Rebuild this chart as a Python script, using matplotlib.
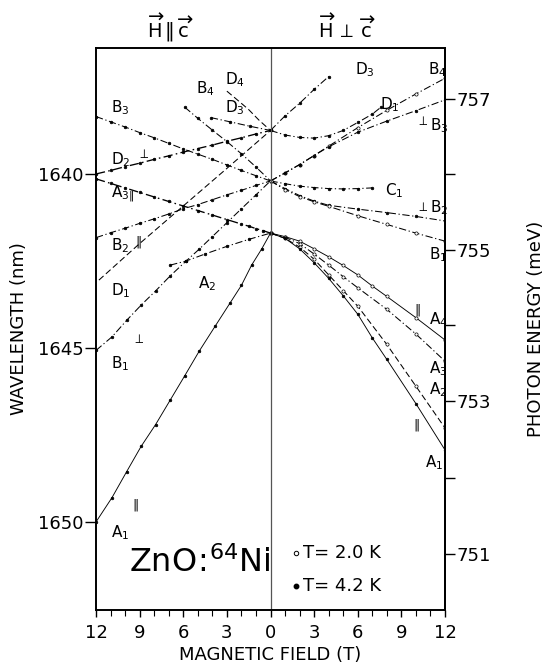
import matplotlib
matplotlib.use("Agg")
import matplotlib.pyplot as plt
from matplotlib.ticker import FixedLocator, FuncFormatter, MultipleLocator

HC = 1239841.98  # meV * nm

# ---------------- data: field (T) and wavelength (nm) ----------------
# H || c  (left half)
par_B3_B  = [12, 11, 10, 9, 8, 7, 6, 5, 4, 3, 2, 1, 0]
par_B3_L  = [1638.35, 1638.5, 1638.65, 1638.81, 1638.96, 1639.12, 1639.28, 1639.43, 1639.58, 1639.74, 1639.9, 1640.05, 1640.2]
par_D2_B  = [12, 11, 10, 9, 8, 7, 6, 5, 4, 3, 2, 1, 0]
par_D2_L  = [1640.0, 1639.9, 1639.79, 1639.69, 1639.58, 1639.48, 1639.37, 1639.27, 1639.17, 1639.06, 1638.96, 1638.85, 1638.75]
par_A3_B  = [12, 11, 10, 9, 8, 7, 6, 5, 4, 3, 2, 1.5, 1, 0.5, 0]
par_A3_L  = [1640.14, 1640.27, 1640.4, 1640.53, 1640.66, 1640.79, 1640.92, 1641.05, 1641.18, 1641.31, 1641.44, 1641.5, 1641.57, 1641.63, 1641.7]
par_B2_B  = [12, 11, 10, 9, 8, 7, 6, 5, 4, 3, 2, 1, 0]
par_B2_L  = [1641.83, 1641.69, 1641.56, 1641.42, 1641.29, 1641.15, 1641.0, 1640.88, 1640.74, 1640.6, 1640.47, 1640.33, 1640.2]
par_D1_B  = [11.8, 9, 6, 3, 0]
par_D1_L  = [1643.05, 1642.0, 1640.92, 1639.84, 1638.75]
par_A2_B  = [6.9, 5.8, 4.5, 3, 1.5, 0]
par_A2_L  = [1642.62, 1642.5, 1642.3, 1642.08, 1641.88, 1641.7]
par_B1_B  = [12, 10.9, 9.9, 8.9, 7.9, 6.9, 5.8, 4.9, 4, 3, 2, 1, 0]
par_B1_L  = [1645.07, 1644.68, 1644.21, 1643.77, 1643.36, 1642.93, 1642.5, 1642.16, 1641.8, 1641.4, 1641.0, 1640.6, 1640.2]
par_A1_B  = [12, 10.9, 9.9, 8.9, 7.9, 6.9, 5.9, 4.9, 3.8, 2.8, 2, 1.3, 0.6, 0]
par_A1_L  = [1650.0, 1649.3, 1648.56, 1647.83, 1647.2, 1646.5, 1645.8, 1645.09, 1644.37, 1643.72, 1643.2, 1642.62, 1642.15, 1641.7]
par_B4_B  = [5.9, 5, 4, 3, 2, 1, 0]
par_B4_L  = [1638.08, 1638.4, 1638.74, 1639.07, 1639.42, 1639.8, 1640.2]
par_D4_B  = [3.0, 2.2, 1.5, 0.8, 0]
par_D4_L  = [1637.62, 1637.9, 1638.15, 1638.45, 1638.75]
par_D3_B  = [4.1, 2.8, 1.4, 0]
par_D3_L  = [1638.38, 1638.5, 1638.63, 1638.75]

# H perpendicular c  (right half)
per_D3_B  = [0, 1, 2, 3, 4]
per_D3_L  = [1638.75, 1638.33, 1637.97, 1637.57, 1637.2]
per_D1_B  = [0, 1, 2, 3, 4, 5, 6, 7, 7.6]
per_D1_L  = [1638.75, 1638.88, 1638.95, 1638.97, 1638.9, 1638.75, 1638.52, 1638.28, 1638.08]
per_B4_B  = [0, 1, 2, 3, 4, 6, 8, 10, 12]
per_B4_L  = [1640.2, 1639.97, 1639.73, 1639.47, 1639.2, 1638.67, 1638.17, 1637.7, 1637.25]
per_B3_B  = [0, 1, 2, 3, 4, 6, 8, 10, 12]
per_B3_L  = [1640.2, 1639.97, 1639.73, 1639.47, 1639.22, 1638.8, 1638.48, 1638.18, 1637.87]
per_C1_B  = [0, 1, 2, 3, 4, 5, 6, 7]
per_C1_L  = [1640.2, 1640.28, 1640.35, 1640.39, 1640.42, 1640.43, 1640.42, 1640.4]
per_B2_B  = [0, 1, 2, 3, 4, 6, 8, 10, 12]
per_B2_L  = [1640.2, 1640.42, 1640.62, 1640.78, 1640.9, 1641.01, 1641.11, 1641.22, 1641.35]
per_B1_B  = [0, 1, 2, 3, 4, 6, 8, 10, 12]
per_B1_L  = [1640.2, 1640.45, 1640.65, 1640.8, 1640.93, 1641.2, 1641.45, 1641.7, 1641.93]
per_A4_B  = [0, 1, 2, 3, 4, 5, 6, 7, 8, 10, 12]
per_A4_L  = [1641.7, 1641.8, 1641.93, 1642.15, 1642.38, 1642.63, 1642.9, 1643.22, 1643.52, 1644.13, 1644.77]
per_A3_B  = [0, 1, 2, 3, 4, 5, 6, 8, 10, 12]
per_A3_L  = [1641.7, 1641.82, 1642.0, 1642.3, 1642.62, 1642.95, 1643.27, 1643.89, 1644.6, 1645.38]
per_A2_B  = [0, 1, 2, 3, 4, 5, 6, 8, 10, 12]
per_A2_L  = [1641.7, 1641.85, 1642.1, 1642.45, 1642.9, 1643.35, 1643.8, 1644.9, 1646.1, 1647.3]
per_A1_B  = [0, 1, 2, 3, 4, 5, 6, 7, 8, 10, 12]
per_A1_L  = [1641.7, 1641.85, 1642.15, 1642.55, 1643.0, 1643.5, 1644.03, 1644.71, 1645.33, 1646.6, 1647.93]

x_ticks = [-12, -9, -6, -3, 0, 3, 6, 9, 12]
y_ticks_nm = [1640, 1645, 1650]
y_ticks_meV = [751, 753, 755, 757]
y_minor_meV = [752, 754, 756]

# ---------------- figure ----------------
plt.rcParams["font.family"] = ["DejaVu Sans"]
plt.rcParams["mathtext.fontset"] = "dejavusans"
fig = plt.figure(figsize=(5.49, 6.70), dpi=100)
L, R, T, Bm = 96, 445, 48, 610
ax = fig.add_axes([L / 549, 1 - Bm / 670, (R - L) / 549, (Bm - T) / 670])
ax.set_xlim(-12, 12)
ax.set_ylim(1652.53, 1636.38)

K = "black"
dashdot = (0, (7, 2.5, 1.2, 2.5))
dash = (0, (6, 3))

def draw(Bv, Lv, sign, ls, mfc=K, lw=0.75, ms=1.9):
    xs = [sign * b for b in Bv]
    ax.plot(xs, Lv, color=K, lw=lw, ls=ls, marker="o", ms=ms, mfc=mfc, mec=K, mew=0.5)

# left half (H || c): plotted at negative x
draw(par_B3_B, par_B3_L, -1, dashdot)
draw(par_D2_B, par_D2_L, -1, dashdot, lw=0.95)
draw(par_A3_B, par_A3_L, -1, dashdot, lw=0.95)
draw(par_B2_B, par_B2_L, -1, dashdot)
draw(par_D1_B, par_D1_L, -1, dash, ms=0)
draw(par_A2_B, par_A2_L, -1, dashdot)
draw(par_B1_B, par_B1_L, -1, dashdot)
draw(par_A1_B, par_A1_L, -1, "-", lw=0.65)
draw(par_B4_B, par_B4_L, -1, dashdot)
draw(par_D4_B, par_D4_L, -1, dash, ms=0)
draw(par_D3_B, par_D3_L, -1, dashdot)

# right half (H perp c)
draw(per_D3_B, per_D3_L, 1, dashdot)
draw(per_D1_B, per_D1_L, 1, dashdot)
draw(per_B4_B, per_B4_L, 1, dashdot, mfc="white", ms=2.3)
draw(per_B3_B, per_B3_L, 1, dashdot)
draw(per_C1_B, per_C1_L, 1, dashdot)
draw(per_B2_B, per_B2_L, 1, dashdot)
draw(per_B1_B, per_B1_L, 1, dashdot, mfc="white", ms=2.3)
draw(per_A4_B, per_A4_L, 1, "-", mfc="white", lw=0.65, ms=2.3)
draw(per_A3_B, per_A3_L, 1, dashdot, mfc="white", ms=2.3)
draw(per_A2_B, per_A2_L, 1, dash, mfc="white", ms=2.3)
draw(per_A1_B, per_A1_L, 1, "-", lw=0.65)

# zero-field divider
ax.axvline(0, color="#555555", lw=0.9)

# axes styling
for s in ax.spines.values():
    s.set_linewidth(1.4)
ax.set_xticks(x_ticks)
ax.xaxis.set_minor_locator(MultipleLocator(1))
ax.xaxis.set_major_formatter(FuncFormatter(lambda v, p: f"{abs(int(round(v)))}"))
ax.set_yticks(y_ticks_nm)
ax.tick_params(axis="y", which="major", direction="out", length=8, width=1.0, labelsize=13, pad=1)
ax.tick_params(axis="x", which="major", direction="out", length=5, width=1.0, labelsize=13, pad=5)
ax.tick_params(axis="x", which="minor", direction="out", length=4, width=0.8)

sec = ax.secondary_yaxis("right", functions=(lambda l: HC / l, lambda e: HC / e))
sec.set_yticks(y_ticks_meV)
sec.yaxis.set_minor_locator(FixedLocator(y_minor_meV))
sec.tick_params(which="major", direction="out", length=7, width=1.0, labelsize=13, pad=1)
sec.tick_params(which="minor", direction="out", length=7, width=1.0)
sec.spines["right"].set_linewidth(1.4)

ax.set_xlabel("MAGNETIC FIELD (T)", fontsize=13, labelpad=3)
ax.set_ylabel("WAVELENGTH (nm)", fontsize=13, labelpad=7)
sec.set_ylabel("PHOTON ENERGY (meV)", fontsize=13, rotation=90, labelpad=26)

# curve labels
fs = 11
def lab(x, y, s, size=fs):
    ax.text(x, y, s, fontsize=size, ha="left", va="center")

lab(-11.0, 1638.1, r"$\mathregular{B_3}$")
lab(-11.0, 1639.6, r"$\mathregular{D_2}$")
lab(-9.2, 1639.45, r"$\perp$", 9)
lab(-11.0, 1640.55, r"$\mathregular{A_{3\Vert}}$")
lab(-11.0, 1642.05, r"$\mathregular{B_2}$")
lab(-9.3, 1641.95, r"$\Vert$", 9)
lab(-11.0, 1643.35, r"$\mathregular{D_1}$")
lab(-5.0, 1643.15, r"$\mathregular{A_2}$")
lab(-9.5, 1644.75, r"$\perp$", 9)
lab(-11.0, 1645.45, r"$\mathregular{B_1}$")
lab(-9.5, 1649.5, r"$\Vert$", 9)
lab(-11.0, 1650.3, r"$\mathregular{A_1}$")
lab(-5.1, 1637.55, r"$\mathregular{B_4}$")
lab(-3.1, 1637.3, r"$\mathregular{D_4}$")
lab(-3.1, 1638.1, r"$\mathregular{D_3}$")

lab(5.8, 1637.0, r"$\mathregular{D_3}$")
lab(10.8, 1637.0, r"$\mathregular{B_4}$")
lab(7.5, 1638.0, r"$\mathregular{D_1}$")
lab(10.0, 1638.5, r"$\perp$", 9)
lab(11.0, 1638.6, r"$\mathregular{B_3}$")
lab(7.9, 1640.47, r"$\mathregular{C_1}$")
lab(10.0, 1640.95, r"$\perp$", 9)
lab(11.0, 1640.98, r"$\mathregular{B_2}$")
lab(10.9, 1642.33, r"$\mathregular{B_1}$")
lab(9.9, 1643.9, r"$\Vert$", 9)
lab(10.9, 1644.2, r"$\mathregular{A_4}$")
lab(10.9, 1645.6, r"$\mathregular{A_3}$")
lab(10.9, 1646.2, r"$\mathregular{A_2}$")
lab(9.8, 1647.2, r"$\Vert$", 9)
lab(10.6, 1648.3, r"$\mathregular{A_1}$")

# sample name and legend
ax.text(0.298, 0.085, r"$\mathregular{ZnO\!:\!{}^{64}Ni}$", transform=ax.transAxes,
        fontsize=23, ha="center", va="center")
ax.plot([1.72], [1650.89], marker="o", ms=3.2, mfc="white", mec=K, mew=0.7, ls="none")
ax.plot([1.72], [1651.84], marker="o", ms=3.2, mfc=K, mec=K, ls="none")
ax.text(2.25, 1650.89, "T= 2.0 K", fontsize=13, va="center", ha="left")
ax.text(2.25, 1651.84, "T= 4.2 K", fontsize=13, va="center", ha="left")

# geometry headers
fig.text(170 / 549, 1 - 28 / 670, r"$\overrightarrow{\mathrm{H}}\,\Vert\,\overrightarrow{\mathrm{c}}$",
         fontsize=14, ha="center", va="center")
fig.text(347 / 549, 1 - 28 / 670, r"$\overrightarrow{\mathrm{H}}\,\perp\,\overrightarrow{\mathrm{c}}$",
         fontsize=14, ha="center", va="center")

fig.savefig("out.png", dpi=100)
